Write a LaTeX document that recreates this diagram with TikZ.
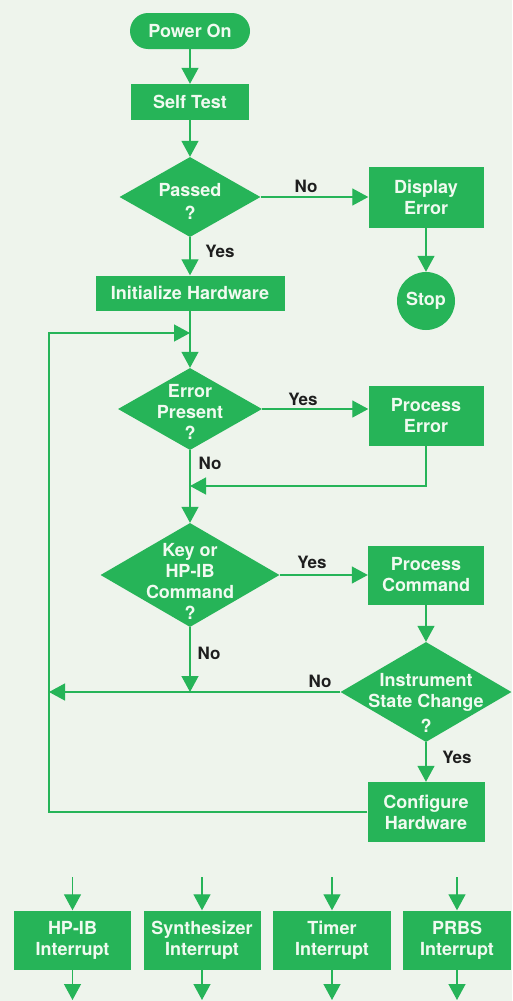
\documentclass[tikz,border=0pt]{standalone}
\usepackage{fontspec}
\setmainfont{TeX Gyre Heros}
\usetikzlibrary{arrows.meta,shapes.geometric}
\definecolor{hpgreen}{RGB}{38,180,88}
\definecolor{bgc}{RGB}{238,244,236}
\definecolor{boxtext}{RGB}{240,250,240}
\definecolor{lbl}{RGB}{30,30,30}
\begin{document}
\begin{tikzpicture}[x=1pt,y=-1pt,
  boxfont/.style={font=\bfseries\fontsize{18}{21}\selectfont},
  box/.style={rectangle, fill=hpgreen, text=boxtext, boxfont, align=center, inner sep=0pt},
  dia/.style={diamond, fill=hpgreen, inner sep=0pt},
  txt/.style={text=boxtext, boxfont, align=center, inner sep=0pt},
  lab/.style={text=lbl, font=\bfseries\fontsize{17}{20}\selectfont, inner sep=0pt},
  conn/.style={draw=hpgreen, line width=1.3pt},
  arr/.style={conn, -{Triangle[length=16pt,width=17pt]}}]
\useasboundingbox[fill=bgc] (0,0) rectangle (512,1001);

% main column
\node[box, rounded corners=18pt, minimum width=120pt, minimum height=36pt] (power) at (190,31) {Power On};
\node[box, minimum width=118pt, minimum height=36pt] (self) at (190,102) {Self Test};
\node[dia, minimum width=141pt, minimum height=80pt] (passed) at (190,197) {};
\node[txt] (passedt) at (190,201) {Passed\\[2pt]?};
\node[box, minimum width=115pt, minimum height=61pt] (disp) at (426,197) {Display\\Error};
\node[circle, fill=hpgreen, minimum size=58pt, inner sep=0pt, text=boxtext, boxfont] (stop) at (426,301) {Stop};
\node[box, minimum width=189pt, minimum height=35pt] (init) at (190,293) {Initialize Hardware};
\node[dia, minimum width=144pt, minimum height=82pt] (errp) at (190,409) {};
\node[txt] (errpt) at (190,412) {Error\\Present\\?};
\node[box, minimum width=115pt, minimum height=60pt] (perr) at (426,416) {Process\\Error};
\node[dia, minimum width=179pt, minimum height=104pt] (key) at (190,575) {};
\node[txt] (keyt) at (190,581) {Key or\\HP-IB\\Command\\?};
\node[box, minimum width=116pt, minimum height=59pt] (pcmd) at (426,575) {Process\\Command};
\node[dia, minimum width=171pt, minimum height=100pt] (inst) at (426,692) {};
\node[txt] (instt) at (426,703) {Instrument\\State Change\\[4pt]?};
\node[box, minimum width=117pt, minimum height=60pt] (conf) at (426,812) {Configure\\Hardware};

% interrupts
\node[box, minimum width=117pt, minimum height=59pt] (hpib) at (72.5,940) {HP-IB\\Interrupt};
\node[box, minimum width=117pt, minimum height=59pt] (synth) at (202,940) {Synthesizer\\Interrupt};
\node[box, minimum width=118pt, minimum height=59pt] (timer) at (332,940) {Timer\\Interrupt};
\node[box, minimum width=108pt, minimum height=59pt] (prbs) at (457,940) {PRBS\\Interrupt};

% coordinates
\coordinate (j1) at (190,333);
\coordinate (lc) at (49,333);
\coordinate (j2) at (190,486);
\coordinate (j3) at (190,692);
\coordinate (lm) at (49,692);
\coordinate (t1) at (72.5,877);
\coordinate (t2) at (202,877);
\coordinate (t3) at (332,877);
\coordinate (t4) at (457,877);
\coordinate (b1) at (72.5,1000);
\coordinate (b2) at (202,1000);
\coordinate (b3) at (332,1000);
\coordinate (b4) at (457,1000);

% connectors
\draw[arr] (power) -- (self);
\draw[arr] (self) -- (passed);
\draw[arr] (passed.east) -- (disp.west);
\draw[arr] (disp) -- (stop);
\draw[arr] (passed) -- (init);
\draw[arr] (init) -- (errp);
\draw[arr] (conf.west) -| (lc) -- (j1);
\draw[arr] (errp.east) -- (errp.east -| perr.west);
\draw[arr] (perr.south) |- (j2);
\draw[arr] (errp) -- (key);
\draw[arr] (key.east) -- (pcmd.west);
\draw[arr] (pcmd) -- (inst);
\draw[arr] (key) -- (j3);
\draw[arr] (inst.west) -- (lm);
\draw[arr] (inst) -- (conf);

\draw[arr] (t1) -- (hpib);
\draw[arr] (t2) -- (synth);
\draw[arr] (t3) -- (timer);
\draw[arr] (t4) -- (prbs);
\draw[arr] (hpib) -- (b1);
\draw[arr] (synth) -- (b2);
\draw[arr] (timer) -- (b3);
\draw[arr] (prbs) -- (b4);

% labels
\node[lab] (l1) at (306,186) {No};
\node[lab] (l2) at (220,251) {Yes};
\node[lab] (l3) at (303,399) {Yes};
\node[lab] (l4) at (210,463) {No};
\node[lab] (l5) at (312,562) {Yes};
\node[lab] (l6) at (209,653) {No};
\node[lab] (l7) at (320,681) {No};
\node[lab] (l8) at (457,757) {Yes};
\end{tikzpicture}
\end{document}
